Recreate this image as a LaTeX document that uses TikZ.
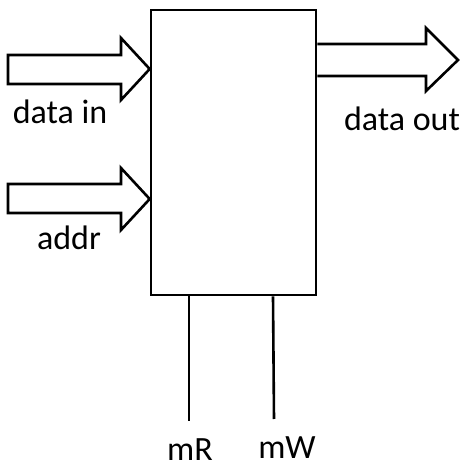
\documentclass[tikz,border=0pt]{standalone}
\usepackage{fontspec}
\setmainfont{Carlito}
\begin{document}
\begin{tikzpicture}[x=1pt,y=-1pt,
  outline/.style={draw=black,line width=2.6pt},
  lbl/.style={anchor=base,inner sep=0pt,text depth=0pt,font=\fontsize{34}{40}\selectfont}]
\useasboundingbox (0,0) rectangle (469,468);
\node[outline,fill=white,minimum width=165pt,minimum height=285pt,inner sep=0pt] (mem) at (233.5,152.5) {};
% input arrows
\draw[outline] (8,55) -- (121,55) -- (121,38) -- (mem.west |- 0,69) -- (121,100) -- (121,84) -- (8,84) -- cycle;
\draw[outline] (8,184) -- (121,184) -- (121,168) -- (mem.west |- 0,199) -- (121,230) -- (121,213) -- (8,213) -- cycle;
% output arrow
\draw[outline] (mem.east |- 0,44) -- (426,44) -- (426,28) -- (458,60) -- (426,91) -- (426,76) -- (mem.east |- 0,76);
% control lines
\coordinate (mRend) at (189,421);
\coordinate (mWend) at (274,419);
\draw[outline] (mem.south -| 189,0) -- (mRend);
\draw[outline] (mem.south -| 273,0) -- (mWend);
% labels
\node[lbl] (ldin) at (60,124) {data in};
\node[lbl] (laddr) at (69,250) {addr};
\node[lbl] (ldout) at (402,131) {data out};
\node[lbl] (lmr) at (190,460) {mR};
\node[lbl] (lmw) at (287,458) {mW};
\end{tikzpicture}
\end{document}
